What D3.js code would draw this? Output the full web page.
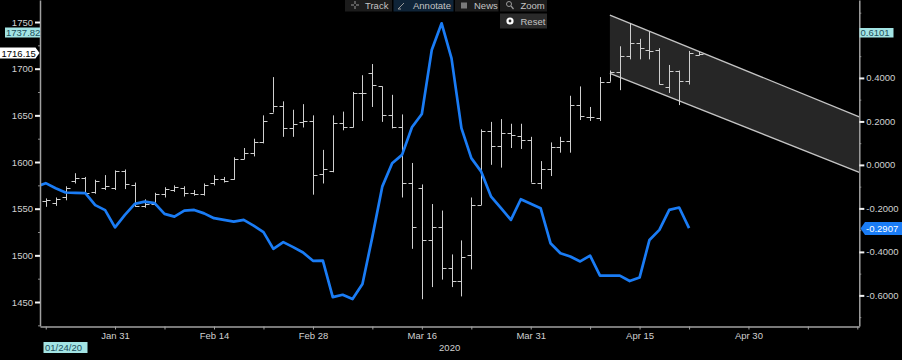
<!DOCTYPE html>
<html><head><meta charset="utf-8">
<script src="https://cdn.jsdelivr.net/npm/d3@7"></script>
<style>html,body{margin:0;padding:0;background:#000;}svg{display:block;}</style>
</head><body><svg id="c" width="902" height="360"></svg>
<script>
// ---------------- DATA ----------------
const barDates = ["2020-01-22","2020-01-23","2020-01-24","2020-01-27","2020-01-28","2020-01-29","2020-01-30","2020-01-31",
"2020-02-03","2020-02-04","2020-02-05","2020-02-06","2020-02-07","2020-02-10","2020-02-11","2020-02-12","2020-02-13","2020-02-14",
"2020-02-17","2020-02-18","2020-02-19","2020-02-20","2020-02-21","2020-02-24","2020-02-25","2020-02-26","2020-02-27","2020-02-28",
"2020-03-02","2020-03-03","2020-03-04","2020-03-05","2020-03-06","2020-03-09","2020-03-10","2020-03-11","2020-03-12","2020-03-13",
"2020-03-16","2020-03-17","2020-03-18","2020-03-19","2020-03-20","2020-03-23","2020-03-24","2020-03-25","2020-03-26","2020-03-27",
"2020-03-30","2020-03-31","2020-04-01","2020-04-02","2020-04-03","2020-04-06","2020-04-07","2020-04-08","2020-04-09","2020-04-10",
"2020-04-13","2020-04-14","2020-04-15","2020-04-16","2020-04-17","2020-04-20","2020-04-21","2020-04-22","2020-04-23"];
const openVals = [1558,1556,1562,1580,1583,1568,1572,1572,1590,1575,
1553,1555,1566,1570,1572,1567,1566,1578,1582,1582,
1603,1610,1621,1653,1660,1636,1643,1644,1587,1590,
1642,1638,1674,1695,1681,1650,1638,1577,1572,1516,
1530,1486,1472,1500,1554,1633,1617,1631,1628,1624,
1578,1592,1616,1622,1661,1648,1647,1686,1696,1714,
1727,1720,1720,1680,1697,1687,1715];
const highVals = [1561,1562,1574,1588,1584,1581,1586,1591,1592,1578,
1560,1567,1573,1575,1574,1570,1577,1586,1584,1605,
1615,1625,1650,1691,1665,1656,1662,1650,1613,1650,
1654,1675,1693,1705,1681,1672,1651,1599,1576,1555,
1548,1501,1516,1562,1635,1643,1646,1641,1641,1627,
1601,1621,1627,1671,1681,1659,1691,1698,1724,1749,
1732,1740,1722,1704,1698,1719,1718];
const lowVals = [1552,1553,1559,1577,1566,1566,1570,1570,1571,1552,
1551,1553,1562,1568,1563,1564,1564,1575,1578,1581,
1603,1606,1620,1653,1627,1627,1637,1565,1577,1589,
1634,1637,1644,1659,1643,1636,1562,1507,1453,1466,
1474,1466,1456,1485,1554,1597,1594,1615,1614,1578,
1571,1585,1610,1610,1645,1644,1644,1686,1677,1710,
1710,1710,1683,1674,1661,1683,1714];
const closeVals = [1559,1560,1572,1583,1567,1580,1574,1590,1576,1553,
1555,1566,1571,1573,1567,1566,1575,1582,1580,1603,
1610,1621,1644,1660,1636,1641,1644,1586,1592,1642,
1638,1674,1674,1682,1650,1638,1577,1530,1516,1530,
1486,1472,1498,1554,1633,1617,1631,1629,1624,1578,
1592,1616,1622,1661,1649,1648,1686,1696,1714,1727,
1722,1719,1684,1697,1687,1717,1716.15];

const corrDates = ["2020-01-21"].concat(barDates.slice(0, 66));
const corrValues = [-0.101,-0.084,-0.107,-0.127,-0.129,-0.130,-0.185,-0.208,-0.287,-0.230,
-0.179,-0.169,-0.176,-0.225,-0.238,-0.210,-0.207,-0.223,-0.245,-0.253,
-0.261,-0.253,-0.279,-0.309,-0.386,-0.355,-0.378,-0.403,-0.441,-0.440,
-0.608,-0.597,-0.617,-0.548,-0.331,-0.100,0.008,0.046,0.173,0.234,
0.528,0.651,0.490,0.169,0.031,-0.031,-0.146,-0.199,-0.253,-0.158,
-0.179,-0.199,-0.360,-0.406,-0.421,-0.444,-0.417,-0.509,-0.509,-0.509,
-0.534,-0.518,-0.345,-0.299,-0.207,-0.196,-0.2907];

const channelDates = ["2020-04-10","2020-05-15"];
const channelUpper = [1757.5,1649.2];
const channelLower = [1695.0,1589.7];

const leftTicks = [1450,1500,1550,1600,1650,1700,1750];
const leftMinor = [1425,1475,1525,1575,1625,1675,1725];
const rightTicks = [-0.6,-0.4,-0.2,0,0.2,0.4];
const rightMinor = [-0.7,-0.5,-0.3,-0.1,0.1,0.3,0.5,0.7];
const xTickDates = ["2020-01-22","2020-01-31","2020-02-07","2020-02-14","2020-02-21","2020-02-28","2020-03-09","2020-03-16",
"2020-03-23","2020-03-31","2020-04-08","2020-04-15","2020-04-22","2020-04-30","2020-05-08","2020-05-15"];
const xTickLabels = {"2020-01-31":"Jan 31","2020-02-14":"Feb 14","2020-02-28":"Feb 28","2020-03-16":"Mar 16",
"2020-03-31":"Mar 31","2020-04-15":"Apr 15","2020-04-30":"Apr 30"};
const yearLabel = "2020";
const toolbarItems = ["Track","Annotate","News","Zoom"];

// ---------------- SETUP ----------------
const FONT = "'Liberation Sans', Arial, sans-serif";
const svg = d3.select("#c");
svg.append("rect").attr("width",902).attr("height",360).attr("fill","#000");

const parse = d3.utcParse("%Y-%m-%d"), fmt = d3.utcFormat("%Y-%m-%d");
const tradingDays = d3.utcDay.range(parse("2020-01-21"), parse("2020-05-16"))
  .filter(d => d.getUTCDay() !== 0 && d.getUTCDay() !== 6);
const dayIndex = new Map(tradingDays.map((d,i)=>[fmt(d), i]));
const idx = s => dayIndex.get(s);

const L = 40, R = 859.3, T = 0, B = 326.5;
const x = d3.scaleLinear().domain([0.42, 83.2]).range([L, R]);
const yL = d3.scaleLinear().domain([1424.3, 1773.6]).range([326, 0]);
const yR = d3.scaleLinear().domain([-0.7408, 0.7583]).range([326, 0]);

svg.append("defs").append("clipPath").attr("id","plot")
  .append("rect").attr("x",L).attr("y",T).attr("width",R-L).attr("height",B-T);

const plot = svg.append("g").attr("clip-path","url(#plot)");

// channel
const ci0 = idx(channelDates[0]), ci1 = idx(channelDates[1]), cEnd = x.domain()[1];
const ext = (v) => v[0] + (v[1]-v[0])*(cEnd-ci0)/(ci1-ci0);
const up = [[ci0, channelUpper[0]],[cEnd, ext(channelUpper)]];
const lo = [[ci0, channelLower[0]],[cEnd, ext(channelLower)]];
const poly = up.concat(lo.slice().reverse());
plot.append("path")
  .attr("d", "M" + poly.map(p=>[x(p[0]), yL(p[1])].join(",")).join("L") + "Z")
  .attr("fill","#262626");
const lineL = d3.line().x(p=>x(p[0])).y(p=>yL(p[1]));
[up, lo].forEach(pts => plot.append("path").attr("d", lineL(pts))
  .attr("fill","none").attr("stroke","#c4c4c4").attr("stroke-width",1.3));

// OHLC bars
const bars = barDates.map((d,i)=>({i:idx(d), o:openVals[i], h:highVals[i], l:lowVals[i], c:closeVals[i]}));
plot.append("g").selectAll("path").data(bars).join("path")
  .attr("d", b => {
    const px = Math.round(x(b.i)) + 0.5;
    const yo = Math.round(yL(b.o)) + 0.5, yc = Math.round(yL(b.c)) + 0.5;
    return `M${px},${yL(b.h)}V${yL(b.l)}M${px-4},${yo}H${px}M${px},${yc}H${px+4}`;
  })
  .attr("fill","none").attr("stroke","#cfcfcf").attr("stroke-width",1);

// blue line
const corr = corrDates.map((d,i)=>({i:idx(d), v:corrValues[i]}));
plot.append("path").datum(corr)
  .attr("d", d3.line().x(p=>x(p.i)).y(p=>yR(p.v)))
  .attr("fill","none").attr("stroke","#1a7cf5").attr("stroke-width",2.7)
  .attr("stroke-linejoin","round");

// ---------------- AXES ----------------
function styleAxis(g, tickColor, tickW) {
  g.select(".domain").attr("stroke","#a0a0a0").attr("stroke-width",1.5);
  g.selectAll(".tick line").attr("stroke",tickColor).attr("stroke-width",tickW);
  g.selectAll("text").attr("fill","#d0d0d0").style("font-family",FONT).style("font-size","9.5px");
}
// left
const gLm = svg.append("g").attr("transform",`translate(${L},0)`)
  .call(d3.axisLeft(yL).tickValues(leftMinor).tickSize(2).tickFormat(""));
gLm.select(".domain").remove();
gLm.selectAll(".tick line").attr("stroke","#8a8a8a");
const gL = svg.append("g").attr("transform",`translate(${L},0)`)
  .call(d3.axisLeft(yL).tickValues(leftTicks).tickSize(5).tickPadding(2).tickSizeOuter(0).tickFormat(d3.format("d")));
styleAxis(gL, "#f2f2f2", 2);

// right
const gRm = svg.append("g").attr("transform",`translate(${R},0)`)
  .call(d3.axisRight(yR).tickValues(rightMinor).tickSize(2).tickFormat(""));
gRm.select(".domain").remove();
gRm.selectAll(".tick line").attr("stroke","#8a8a8a");
const gR = svg.append("g").attr("transform",`translate(${R},0)`)
  .call(d3.axisRight(yR).tickValues(rightTicks).tickSize(5).tickPadding(2).tickSizeOuter(0).tickFormat(d => d.toFixed(4)));
styleAxis(gR, "#f2f2f2", 2);

// bottom
const gB = svg.append("g").attr("transform",`translate(0,${B})`)
  .call(d3.axisBottom(x).tickValues(xTickDates.map(idx)).tickSize(3).tickPadding(3).tickSizeOuter(0)
    .tickFormat(i => xTickLabels[fmt(tradingDays[i])] || ""));
styleAxis(gB, "#a0a0a0", 1);
svg.append("text").attr("x",(L+R)/2).attr("y",350.5).attr("text-anchor","middle")
  .attr("fill","#d0d0d0").style("font-family",FONT).style("font-size","9.5px").text(yearLabel);

// ---------------- VALUE FLAGS ----------------
function flagText(xp, yp, txt, color) {
  svg.append("text").attr("x",xp).attr("y",yp).attr("fill",color)
    .style("font-family",FONT).style("font-size","9.5px").text(txt);
}
// crosshair price (left)
svg.append("rect").attr("x",5).attr("y",27.5).attr("width",35).attr("height",10).attr("fill","#a3e4e4");
flagText(6, 36, "1737.82", "#1c4f5c");
// last price (left)
svg.append("path").attr("d","M0,47.5H35.5L39.5,53L35.5,58.5H0Z").attr("fill","#ffffff");
flagText(1.5, 56.5, d3.format(".2f")(closeVals[closeVals.length-1]), "#000");
// crosshair right
svg.append("rect").attr("x",859.5).attr("y",28).attr("width",34).attr("height",9.5).attr("fill","#a3e4e4");
flagText(860.5, 36, "0.6101", "#1c4f5c");
// last corr value (right)
svg.append("path").attr("d","M860.5,228.5L865,222H902V235H865Z").attr("fill","#1a7cf5");
flagText(866, 232.3, corrValues[corrValues.length-1].toFixed(4), "#fff");
// date flag
svg.append("rect").attr("x",43.5).attr("y",342).attr("width",44).attr("height",11).attr("fill","#a3e4e4");
flagText(45, 351, "01/24/20", "#1c4f5c");

// ---------------- TOOLBAR ----------------
const tb = svg.append("g");
const btns = [{x:345,w:47,bg:"#1c1c1c"},{x:393.5,w:60,bg:"#0f2438"},{x:455,w:43.5,bg:"#1c1c1c"},{x:500,w:47,bg:"#1c1c1c"}];
btns.forEach((b,k)=>{
  tb.append("rect").attr("x",b.x).attr("y",0).attr("width",b.w).attr("height",11.5).attr("fill",b.bg);
  tb.append("text").attr("x",b.x+ (k===0?20:k===1?19.5:k===2?19:20.5)).attr("y",8.6).attr("fill","#c4c4c4")
    .style("font-family",FONT).style("font-size","9.5px").text(toolbarItems[k]);
});
// icons
tb.append("path").attr("d","M351,5H354M356,5H359M355,1V4M355,6V9").attr("stroke","#9a9a9a").attr("stroke-width",1);
tb.append("path").attr("d","M398,9L404,3M398,9H401").attr("stroke","#9a9a9a").attr("stroke-width",1).attr("fill","none");
tb.append("rect").attr("x",461).attr("y",2.5).attr("width",6).attr("height",6).attr("fill","#7a7a7a");
tb.append("circle").attr("cx",509).attr("cy",4).attr("r",2.5).attr("fill","none").attr("stroke","#9a9a9a");
tb.append("path").attr("d","M511,6L513.5,9").attr("stroke","#9a9a9a").attr("stroke-width",1.2);
// reset
tb.append("rect").attr("x",500).attr("y",13.5).attr("width",47).attr("height",15).attr("fill","#2a2a2a");
tb.append("circle").attr("cx",510).attr("cy",21).attr("r",3.6).attr("fill","#fff");
tb.append("circle").attr("cx",510).attr("cy",21).attr("r",1.4).attr("fill","#2a2a2a");
tb.append("text").attr("x",520.5).attr("y",24.5).attr("fill","#c4c4c4")
  .style("font-family",FONT).style("font-size","9.5px").text("Reset");
</script></body></html>
